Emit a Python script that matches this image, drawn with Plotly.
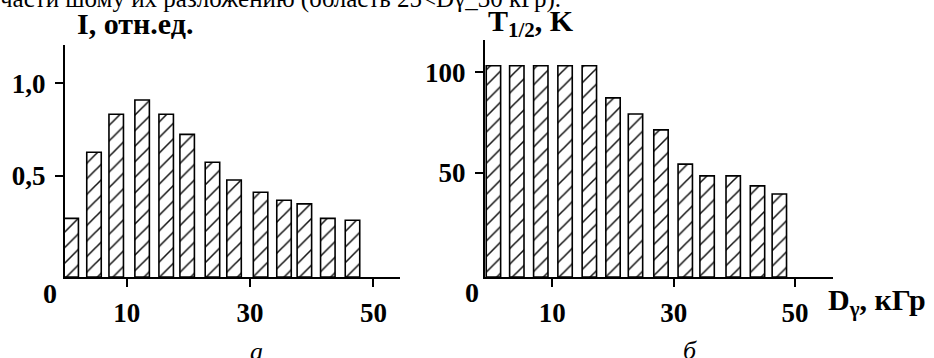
import plotly.graph_objects as go

# ---- data ----
dose_a = [1.0, 4.7, 8.3, 12.5, 16.4, 19.8, 23.9, 27.4, 31.7, 35.5, 38.8, 42.6, 46.6]
intensity_a = [0.271, 0.628, 0.834, 0.911, 0.834, 0.725, 0.574, 0.478, 0.412, 0.369, 0.349, 0.271, 0.261]

dose_b = [0.3, 4.15, 8.1, 12.1, 16.1, 20.0, 23.7, 27.9, 31.9, 35.5, 39.8, 43.8, 47.4]
t_half_b = [103.3, 103.3, 103.3, 103.3, 103.3, 87.3, 79.2, 71.3, 54.2, 48.3, 48.3, 43.3, 39.3]

x_tick_vals = [10, 30, 50]
x_tick_text = ["10", "30", "50"]
ya_tick_vals = [0.5, 1.0]
ya_tick_text = ["0,5", "1,0"]
yb_tick_vals = [50, 100]
yb_tick_text = ["50", "100"]

W, H = 934, 358
def px(x):
    return x / W
def py(y):
    return 1 - y / H

SERIF = "Liberation Serif, Times New Roman, serif"
tick_font = dict(family=SERIF, size=27, color="black", weight="bold")

YA_MIN, YA_MAX = -0.046, 1.208
YB_MIN, YB_MAX = -2.2, 116.2

pattern = dict(shape="/", size=11, solidity=0.14, fgcolor="#111", bgcolor="white", fillmode="replace")

fig = go.Figure()
fig.add_trace(go.Bar(
    x=dose_a, y=[v - YA_MIN for v in intensity_a], base=YA_MIN, width=2.35,
    marker=dict(color="white", line=dict(color="black", width=1.6), pattern=pattern),
    xaxis="x", yaxis="y", showlegend=False, hoverinfo="skip"))
fig.add_trace(go.Bar(
    x=dose_b, y=[v - YB_MIN for v in t_half_b], base=YB_MIN, width=2.37,
    marker=dict(color="white", line=dict(color="black", width=1.6), pattern=pattern),
    xaxis="x2", yaxis="y2", showlegend=False, hoverinfo="skip"))

axis_common = dict(showgrid=False, zeroline=False, showline=True, linecolor="black",
                   linewidth=2, ticks="outside", ticklen=8, tickwidth=2, tickcolor="black",
                   tickfont=tick_font)

fig.update_layout(
    width=W, height=H, margin=dict(l=0, r=0, t=0, b=0),
    paper_bgcolor="white", plot_bgcolor="white", barmode="overlay",
    xaxis=dict(domain=[px(65), px(400)], range=[0, 54.3], anchor="y",
               tickvals=x_tick_vals, ticktext=x_tick_text, ticklabelstandoff=3, **axis_common),
    yaxis=dict(domain=[py(277), py(45)], range=[YA_MIN, YA_MAX], anchor="x",
               tickvals=ya_tick_vals, ticktext=ya_tick_text, ticklabelstandoff=4, **axis_common),
    xaxis2=dict(domain=[px(485), px(833)], range=[-1.09, 56.24], anchor="y2",
                tickvals=x_tick_vals, ticktext=x_tick_text, ticklabelstandoff=3, **axis_common),
    yaxis2=dict(domain=[py(277), py(40)], range=[YB_MIN, YB_MAX], anchor="x2",
                tickvals=yb_tick_vals, ticktext=yb_tick_text, ticklabelstandoff=4, **axis_common),
)

def ann(text, x, y, xanchor="center", yanchor="middle", size=26, bold=True, italic=False):
    fig.add_annotation(text=text, x=px(x), y=py(y), xref="paper", yref="paper",
                       xanchor=xanchor, yanchor=yanchor, showarrow=False,
                       font=dict(family=SERIF, size=size, color="black",
                                 weight="bold" if bold else "normal",
                                 style="italic" if italic else "normal"))

ann("0", 50, 293, size=28)
ann("0", 472, 292, size=28)
ann("I, отн.ед.", 75, 23, xanchor="left", size=30)
ann("T<sub>1/2</sub>, K", 486, 23, xanchor="left", size=30)
ann("D<sub>γ</sub>, кГр", 826, 302, xanchor="left", size=30)
ann("а", 256, 351, size=26, bold=False, italic=True)
ann("б", 690, 350, size=26, bold=False, italic=True)
ann("части шому их разложению (область 25<Dγ_30 кГр).", -2, -1, xanchor="left",
    size=25, bold=False)

fig.write_html("out.html", config={"displayModeBar": False},
               post_script="document.body.style.margin='0';document.body.style.overflow='hidden';")
